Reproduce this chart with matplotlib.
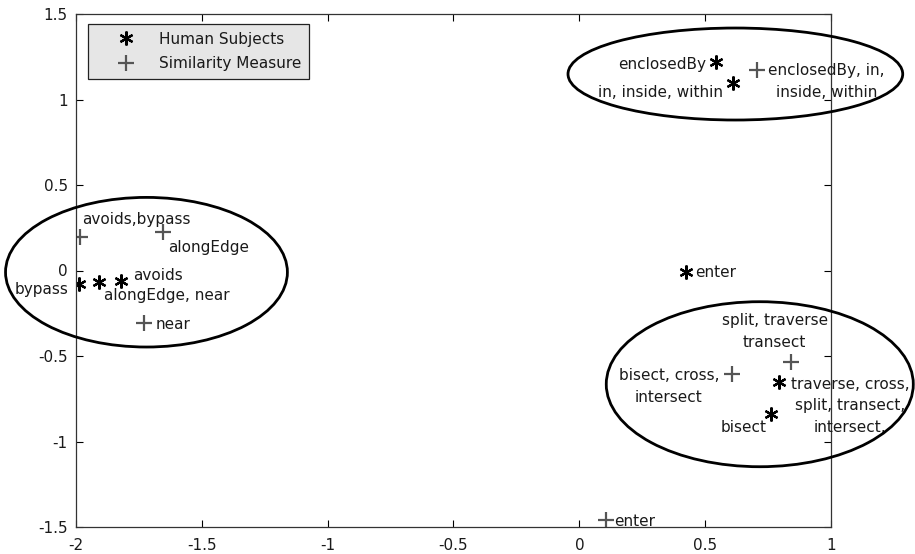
import matplotlib.pyplot as plt
from matplotlib.patches import Ellipse

# --- data ---
human_x = [-1.99, -1.91, -1.82, 0.545, 0.61, 0.424, 0.794, 0.76]
human_y = [-0.08, -0.07, -0.06, 1.22, 1.095, -0.01, -0.654, -0.839]
human_labels = ['bypass', 'alongEdge, near', 'avoids', 'enclosedBy',
                'in, inside, within', 'enter',
                'traverse, cross,\nsplit, transect,\nintersect,', 'bisect']

sim_x = [-1.984, -1.653, -1.73, 0.704, 0.605, 0.843, 0.104]
sim_y = [0.198, 0.223, -0.305, 1.172, -0.607, -0.533, -1.457]
sim_labels = ['avoids,bypass', 'alongEdge', 'near',
              'enclosedBy, in,\ninside, within', 'bisect, cross,\nintersect',
              'split, traverse\ntransect', 'enter']

# cluster ellipses: centre x, centre y, width, height
ell_cx = [-1.72, 0.62, 0.717]
ell_cy = [-0.01, 1.149, -0.665]
ell_w = [1.12, 1.33, 1.22]
ell_h = [0.875, 0.538, 0.965]

x_ticks = [-2, -1.5, -1, -0.5, 0, 0.5, 1]
y_ticks = [-1.5, -1, -0.5, 0, 0.5, 1, 1.5]

# label placement (pixel offsets of the last baseline from the marker, alignment)
human_pos = [(-10, -10, 'right'), (5, -18, 'left'), (11.6, 1, 'left'),
             (-10, -7.6, 'right'), (-10, -13.4, 'right'), (9, -5, 'left'),
             (70.7, -49.4, 'center'), (-4, -17.7, 'right')]
sim_pos = [(1.7, 12.7, 'left'), (5, -19.4, 'left'), (11.7, -6.6, 'left'),
           (70, -26.7, 'center'), (-62.7, -27.4, 'center'), (-16.7, 15, 'center'),
           (9, -6, 'left')]

plt.rcParams['font.family'] = ['DejaVu Sans']
txt_col = '#1a1a1a'

fig = plt.figure(figsize=(9.15, 5.54), dpi=100)
ax = fig.add_axes([76 / 915, 27 / 554, 755 / 915, 513 / 554])

ax.plot(human_x, human_y, linestyle='none', marker=(6, 2, 0), markersize=10,
        markeredgewidth=1.6, color='black', label='Human Subjects')
ax.plot(sim_x, sim_y, linestyle='none', marker='+', markersize=12,
        markeredgewidth=1.6, color='#555555', label='Similarity Measure')

for x, y, s, (dx, dy, ha) in zip(human_x, human_y, human_labels, human_pos):
    ax.annotate(s, (x, y), xytext=(dx, dy), textcoords='offset pixels',
                ha=ha, va='baseline', fontsize=11, color=txt_col,
                linespacing=1.55, annotation_clip=False)
for x, y, s, (dx, dy, ha) in zip(sim_x, sim_y, sim_labels, sim_pos):
    ax.annotate(s, (x, y), xytext=(dx, dy), textcoords='offset pixels',
                ha=ha, va='baseline', fontsize=11, color=txt_col,
                linespacing=1.55, annotation_clip=False)

for cx, cy, w, h in zip(ell_cx, ell_cy, ell_w, ell_h):
    ax.add_patch(Ellipse((cx, cy), w, h, fill=False, edgecolor='black',
                         linewidth=2.0, clip_on=False, zorder=3))

ax.set_xlim(-2, 1)
ax.set_ylim(-1.5, 1.5)
ax.set_xticks(x_ticks)
ax.set_xticklabels(['-2', '-1.5', '-1', '-0.5', '0', '0.5', '1'])
ax.set_yticks(y_ticks)
ax.set_yticklabels(['-1.5', '-1', '-0.5', '0', '0.5', '1', '1.5'])
ax.tick_params(direction='in', top=True, right=True, length=5, width=0.8,
               labelsize=11, labelcolor=txt_col)
ax.tick_params(axis='x', pad=8)
ax.tick_params(axis='y', pad=6)
for sp in ax.spines.values():
    sp.set_linewidth(0.9)
    sp.set_color('#333333')

leg = ax.legend(loc='upper left', bbox_to_anchor=(12 / 755, 1 - 10 / 513),
                borderaxespad=0, fontsize=11, fancybox=False, framealpha=1,
                facecolor='#e6e6e6', edgecolor='#222222', labelspacing=0.62,
                handlelength=4.0, handletextpad=0.15, borderpad=0.5)
leg.get_frame().set_linewidth(0.9)
for t in leg.get_texts():
    t.set_color(txt_col)

fig.savefig('out.png', dpi=100)
